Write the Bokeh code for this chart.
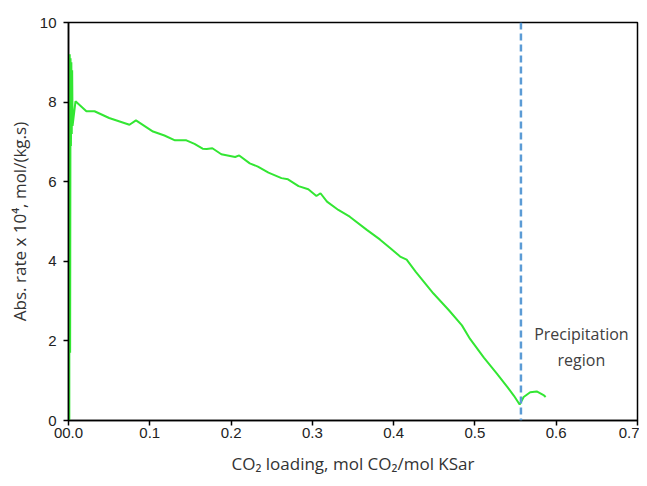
from bokeh.plotting import figure
from bokeh.models import Span, Label, FixedTicker, CustomJSTickFormatter
from bokeh.embed import file_html
from bokeh.resources import INLINE

# CO2 loading (mol CO2/mol KSar) and absorption rate x 10^4 (mol/(kg.s))
loading = [0.0010, 0.0010, 0.0015, 0.0020, 0.0025, 0.0030, 0.0035, 0.0040, 0.0045, 0.0050,
           0.0086, 0.022, 0.032, 0.050, 0.075, 0.083, 0.104, 0.118, 0.131, 0.145,
           0.155, 0.165, 0.170, 0.177, 0.188, 0.205, 0.210, 0.223, 0.233, 0.246,
           0.262, 0.270, 0.283, 0.295, 0.305, 0.310, 0.318, 0.332, 0.346, 0.367,
           0.383, 0.396, 0.408, 0.416, 0.427, 0.439, 0.449, 0.468, 0.484, 0.494,
           0.511, 0.527, 0.540, 0.548, 0.555, 0.560, 0.568, 0.576, 0.585, 0.587]
rate = [0.0, 1.6, 9.2, 1.7, 9.1, 6.9, 9.0, 7.2, 8.8, 7.4,
        8.02, 7.77, 7.77, 7.60, 7.43, 7.54, 7.26, 7.16, 7.04, 7.04,
        6.95, 6.83, 6.82, 6.84, 6.69, 6.62, 6.66, 6.46, 6.38, 6.23,
        6.09, 6.06, 5.89, 5.81, 5.64, 5.71, 5.50, 5.29, 5.12, 4.79,
        4.55, 4.33, 4.12, 4.04, 3.74, 3.44, 3.19, 2.77, 2.39, 2.05,
        1.58, 1.18, 0.84, 0.62, 0.40, 0.59, 0.71, 0.73, 0.63, 0.59]

precip_start = 0.5566
x_ticks = [0, 0.1, 0.2, 0.3, 0.4, 0.5, 0.6, 0.7]
x_tick_labels = ["00.0", "0.1", "0.2", "0.3", "0.4", "0.5", "0.6", "0.7"]
y_ticks = [0, 2, 4, 6, 8, 10]

p = figure(width=639, height=478, output_backend="svg", toolbar_location=None,
           x_range=(0, 0.7), y_range=(0, 10))
p.min_border_left = 68
p.min_border_right = 2
p.min_border_top = 22
p.min_border_bottom = 58

p.line(loading, rate, line_color="#33e633", line_width=2)

p.add_layout(Span(location=precip_start, dimension="height", line_color="#5b9bd5",
                  line_width=2.5, line_dash="7 4"))
p.add_layout(Label(x=0.631, y=1.84, text="Precipitation\nregion", text_align="center",
                   text_baseline="middle", text_font="Open Sans",
                   text_font_size="16px", text_color="#404040"))

p.grid.visible = False
p.outline_line_color = "black"
p.outline_line_width = 1.5

p.xaxis.ticker = FixedTicker(ticks=x_ticks)
p.xaxis.formatter = CustomJSTickFormatter(
    args=dict(tvals=x_ticks, tlabels=x_tick_labels),
    code="""
        let best = 0, d = Infinity;
        for (let i = 0; i < tvals.length; i++) {
            const e = Math.abs(tvals[i] - tick);
            if (e < d) { d = e; best = i; }
        }
        return tlabels[best];
    """)
p.yaxis.ticker = FixedTicker(ticks=y_ticks)

for ax in (p.xaxis, p.yaxis):
    ax.axis_line_color = "black"
    ax.axis_line_width = 1.5
    ax.major_tick_line_color = "black"
    ax.major_tick_line_width = 1.5
    ax.major_tick_in = 0
    ax.major_tick_out = 5
    ax.minor_tick_line_color = None
    ax.major_label_text_font = "Liberation Sans"
    ax.major_label_text_font_size = "15px"
    ax.major_label_text_color = "#222222"
    ax.axis_label_text_font = "Open Sans"
    ax.axis_label_text_font_size = "17px"
    ax.axis_label_text_font_style = "normal"
    ax.axis_label_text_color = "#333333"

p.xaxis.axis_label = "CO₂ loading, mol CO₂/mol KSar"
p.yaxis.axis_label = "Abs. rate x 10⁴, mol/(kg.s)"
p.xaxis.major_label_standoff = 2
p.xaxis.axis_label_standoff = 11
p.yaxis.major_label_standoff = 7
p.yaxis.axis_label_standoff = 6

open("out.html", "w").write(file_html(p, INLINE))
